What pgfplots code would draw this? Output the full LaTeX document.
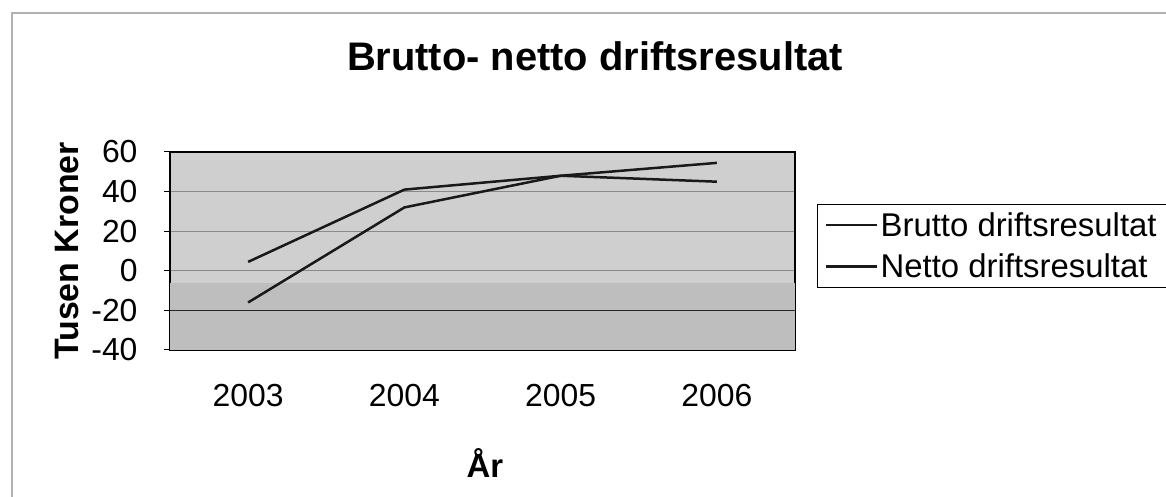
\documentclass[border=0pt]{standalone}
\usepackage{pgfplots}
\pgfplotsset{compat=1.18}
\usepackage{fontspec}
\setmainfont{Liberation Sans}
\definecolor{plotbg}{HTML}{CFCFCF}
\definecolor{plotbgdark}{HTML}{BEBEBE}
\definecolor{gridc}{HTML}{8A8A8A}
\begin{document}
\begin{tikzpicture}[x=1bp,y=1bp]
\useasboundingbox (0,0) rectangle (1166,497);
\draw[gray!60, line width=2bp] (12,-5) -- (12,484) -- (1170,484);
\node[font=\bfseries\fontsize{40}{46}\selectfont] at (595,441) {Brutto- netto driftsresultat};
\begin{axis}[
  at={(170bp,147bp)}, anchor=south west,
  width=625bp, height=198bp, scale only axis,
  xmin=-0.5, xmax=3.5, ymin=-40, ymax=60,
  xtick={0,1,2,3}, xticklabels={2003,2004,2005,2006},
  ytick={-40,-20,0,20,40,60},
  ytick pos=left, tick align=outside, major tick length=6bp,
  xtick style={draw=none},
  ytick style={black, line width=1bp},
  /pgf/number format/assume math mode=true,
  tick label style={font=\fontsize{32}{38}\selectfont},
  xticklabel style={yshift=-25bp},
  yticklabel style={xshift=-23bp},
  ymajorgrids, grid style={gridc, line width=1bp},
  axis background/.style={fill=plotbg},
  axis line style={black, line width=1.5bp},
  ylabel={Tusen Kroner},
  ylabel style={at={(axis description cs:-0.165,0.5)}, anchor=center, font=\bfseries\fontsize{34}{40}\selectfont},
  xlabel={År},
  xlabel style={at={(axis description cs:0.504,-0.57)}, anchor=center, font=\bfseries\fontsize{33}{40}\selectfont},
  legend style={at={(axis description cs:1.035,0.737)}, anchor=north west,
    draw=black, line width=0.6bp, font=\fontsize{33}{40}\selectfont,
    row sep=12bp, inner xsep=8bp, inner ysep=6bp, nodes={inner sep=2bp}},
  legend cell align=left,
  legend image code/.code={\draw[#1] (0bp,0bp) -- (51bp,0bp);},
]
\fill[plotbgdark] (axis cs:-0.5,-40) rectangle (axis cs:3.5,-6);
\draw[black!85, line width=1.2bp] (axis cs:-0.5,-20) -- (axis cs:3.5,-20);
\addplot[black!90, line width=2.5bp] coordinates {(0,4.5) (1,41) (2,48) (3,45)};
\addlegendentry{Brutto driftsresultat}
\addplot[black!90, line width=2.5bp] coordinates {(0,-16) (1,32) (2,48) (3,54.5)};
\addlegendentry{Netto driftsresultat}
\end{axis}
\end{tikzpicture}
\end{document}
